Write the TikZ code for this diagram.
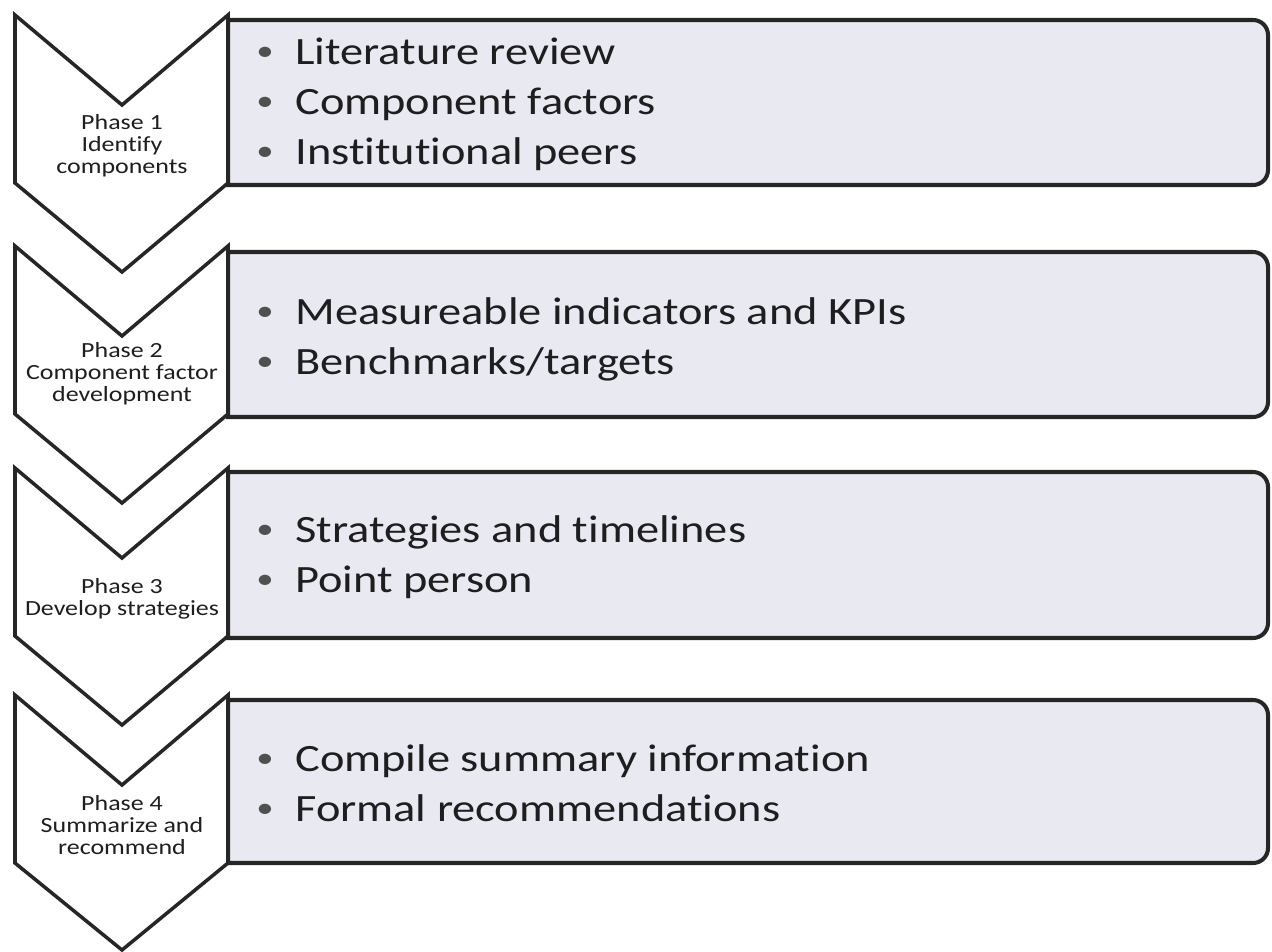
\documentclass[tikz,border=0pt]{standalone}
\usepackage{fontspec}
\setmainfont[FakeStretch=1.2, Ligatures=NoCommon]{Carlito}
\definecolor{edge}{RGB}{38,38,38}
\definecolor{boxfill}{RGB}{233,233,241}
\definecolor{ink}{RGB}{30,30,30}
\definecolor{dot}{RGB}{80,80,80}
\newcommand{\itm}[1]{\makebox[0.78cm][l]{\raisebox{0.09em}{\scalebox{0.75}{\textcolor{dot}{\textbullet}}}}#1}
\tikzset{
  chev/.style={draw=edge, line width=2pt, fill=white, line join=miter},
  listbox/.style={draw=edge, line width=2.3pt, fill=boxfill},
  phase/.style={align=center, font=\fontsize{12.3}{12.5}\selectfont, text=ink},
  items/.style={anchor=west, align=left, inner sep=0pt, font=\fontsize{22}{28.45}\selectfont, text=ink}
}
\begin{document}
\begin{tikzpicture}
\useasboundingbox (0,0) rectangle (25.44,-19.02);
% phase 1
\draw[listbox](4.56,-0.40)--(25.06,-0.40)arc(90:0:0.3)--(25.36,-3.40)arc(0:-90:0.3)--(4.56,-3.70)--cycle;
\draw[chev](0.30,-0.30)--(2.44,-2.10)--(4.56,-0.30)--(4.56,-3.66)--(2.44,-5.44)--(0.30,-3.66)--cycle;
\node[phase] (ph1) at (2.44,-2.92){Phase 1\\Identify\\components};
\node[items] (it1) at (5.12,-2.08){\itm{Literature review}\\\itm{Component factors}\\\itm{Institutional peers}};
% phase 2
\draw[listbox](4.56,-5.04)--(25.06,-5.04)arc(90:0:0.3)--(25.36,-8.04)arc(0:-90:0.3)--(4.56,-8.34)--cycle;
\draw[chev](0.30,-4.92)--(2.44,-6.72)--(4.56,-4.92)--(4.56,-8.28)--(2.44,-10.06)--(0.30,-8.28)--cycle;
\node[phase] (ph2) at (2.44,-7.48){Phase 2\\Component factor\\development};
\node[items] (it2) at (5.12,-6.78){\itm{Measureable indicators and KPIs}\\\itm{Benchmarks/targets}};
% phase 3
\draw[listbox](4.56,-9.44)--(25.06,-9.44)arc(90:0:0.3)--(25.36,-12.46)arc(0:-90:0.3)--(4.56,-12.76)--cycle;
\draw[chev](0.30,-9.36)--(2.44,-11.16)--(4.56,-9.36)--(4.56,-12.72)--(2.44,-14.50)--(0.30,-12.72)--cycle;
\node[phase] (ph3) at (2.44,-11.98){Phase 3\\Develop strategies};
\node[items] (it3) at (5.12,-11.14){\itm{Strategies and timelines}\\\itm{Point person}};
% phase 4
\draw[listbox](4.56,-14.00)--(25.06,-14.00)arc(90:0:0.3)--(25.36,-16.96)arc(0:-90:0.3)--(4.56,-17.26)--cycle;
\draw[chev](0.30,-13.90)--(2.44,-15.70)--(4.56,-13.90)--(4.56,-17.26)--(2.44,-19.00)--(0.30,-17.26)--cycle;
\node[phase] (ph4) at (2.44,-16.50){Phase 4\\Summarize and\\recommend};
\node[items] (it4) at (5.12,-15.66){\itm{Compile summary information}\\\itm{Formal recommendations}};
\end{tikzpicture}
\end{document}
